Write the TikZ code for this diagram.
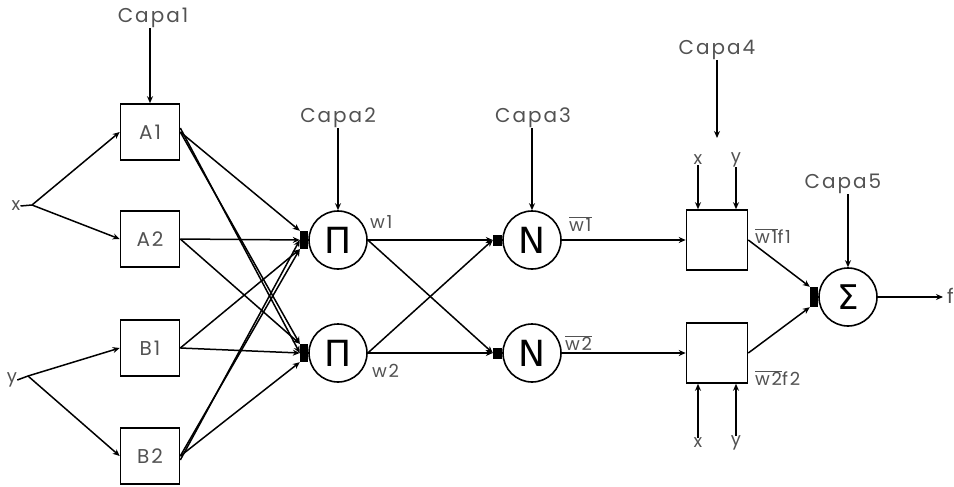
\documentclass[tikz,border=0pt]{standalone}
\usepackage{fontspec}
\setmainfont{Poppins}[LetterSpace=10]
\newfontfamily\symfont{DejaVu Sans}
\usetikzlibrary{arrows.meta}
\begin{document}
\begin{tikzpicture}[x=1pt,y=-1pt,
  lbl/.style={text=black!68, font=\fontsize{20}{22}\selectfont, inner sep=0pt},
  small/.style={text=black!68, font=\fontsize{18}{20}\selectfont, inner sep=0pt},
  mf/.style={draw, line width=1.6pt, minimum width=59pt, minimum height=56pt, inner sep=0pt, text=black!68, font=\fontsize{20}{22}\selectfont},
  opnode/.style={draw, circle, line width=1.6pt, minimum size=58pt, inner sep=0pt, font=\symfont\fontsize{36}{38}\selectfont},
  blob/.style={fill=black, minimum width=8pt, minimum height=18pt, inner sep=0pt},
  sblob/.style={fill=black, minimum width=9pt, minimum height=11pt, inner sep=0pt},
  con/.style={line width=1.5pt, -{Stealth[length=7pt,width=6pt]}},
  pln/.style={line width=1.5pt},
]
\useasboundingbox (0,0) rectangle (954,487);

% layer 1
\node[mf] (A1) at (150,132) {A1};
\node[mf] (A2) at (150,239) {A2};
\node[mf] (B1) at (150,348) {B1};
\node[mf] (B2) at (150,456) {B2};
\node[lbl] (capa1) at (153,18) {Capa1};
\draw[con] (capa1.south -| A1.north) -- (A1.north);

\node[small] (x) at (16,206) {x};
\coordinate (xj) at (32,205);
\node[small] (y) at (12,380) {y};
\coordinate (yj) at (28,376);
\draw[pln] (x.east) -- (xj);
\draw[pln] (y.east) -- (yj);
\draw[con] (xj) -- (A1.west);
\draw[con] (xj) -- (A2.west);
\draw[con] (yj) -- (B1.west);
\draw[con] (yj) -- (B2.west);

% layer 2
\node[opnode] (P1) at (338,240) {Π};
\node[opnode] (P2) at (338,353) {Π};
\node[blob, anchor=east] (bp1) at (P1.west) {};
\node[blob, anchor=east] (bp2) at (P2.west) {};
\node[lbl] (capa2) at (338,118) {Capa2};
\draw[con] (capa2.south -| P1.north) -- (P1.north);
\node[small, anchor=west] (w1) at (370,222) {w1};
\node[small, anchor=west] (w2) at (372,371) {w2};

\draw[con] (A1.east) -- (bp1.north west);
\draw[con] (A1.east) -- (bp2.north west);
\draw[con] ([yshift=4pt]A1.east) -- (bp2.west);
\draw[con] (A2.east) -- (bp1.west);
\draw[con] (A2.east) -- (bp2.north west);
\draw[con] (B1.east) -- (bp1.south west);
\draw[con] (B1.east) -- (bp2.west);
\draw[con] (B2.east) -- (bp1.south west);
\draw[con] ([yshift=-4pt]B2.east) -- (bp1.west);
\draw[con] (B2.east) -- (bp2.south west);

% layer 3
\node[opnode] (N1) at (532,240) {N};
\node[opnode] (N2) at (532,353) {N};
\node[sblob, anchor=east] (bn1) at (N1.west) {};
\node[sblob, anchor=east] (bn2) at (N2.west) {};
\node[lbl] (capa3) at (533,118) {Capa3};
\draw[con] (capa3.south -| N1.north) -- (N1.north);
\node[small, anchor=west] (nw1) at (569,224) {$\overline{\hbox{w1}}$};
\node[small, anchor=west] (nw2) at (565,343) {$\overline{\hbox{w2}}$};

\draw[con] (P1.east) -- (bn1.west);
\draw[con] (P1.east) -- (bn2.west);
\draw[con] (P2.east) -- (bn1.west);
\draw[con] (P2.east) -- (bn2.west);

% layer 4
\node[mf, minimum width=61pt, minimum height=60pt] (L1) at (717,240) {};
\node[mf, minimum width=61pt, minimum height=60pt] (L2) at (717,353) {};
\draw[con] (N1.east) -- (L1.west);
\draw[con] (N2.east) -- (L2.west);
\node[lbl] (capa4) at (717,50) {Capa4};
\coordinate (c4end) at (717,138);
\draw[con] (capa4.south) -- (c4end);

\node[small] (xt) at (698,160) {x};
\node[small] (yt) at (736,160) {y};
\draw[con] (xt.south) -- (xt |- L1.north);
\draw[con] (yt.south) -- (yt |- L1.north);
\node[small] (xb) at (698,443) {x};
\node[small] (yb) at (736,443) {y};
\draw[con] (xb.north) -- (xb |- L2.south);
\draw[con] (yb.north) -- (yb |- L2.south);

\node[small, anchor=west] (f1l) at (755,236) {$\overline{\hbox{w1}}$f1};
\node[small, anchor=west] (f2l) at (755,378) {$\overline{\hbox{w2}}$f2};

% layer 5
\node[opnode, font=\symfont\fontsize{34}{36}\selectfont] (S) at (848,297) {Σ};
\node[blob, minimum height=20pt, anchor=east] (bs) at (S.west) {};
\node[lbl] (capa5) at (843,184) {Capa5};
\draw[con] (capa5.south -| S.north) -- (S.north);
\draw[con] (L1.east) -- (bs.north west);
\draw[con] (L2.east) -- (bs.south west);

\coordinate (outend) at (943,297);
\draw[con] (S.east) -- (outend);
\node[lbl, anchor=west] (f) at (947,296) {f};
\end{tikzpicture}
\end{document}
